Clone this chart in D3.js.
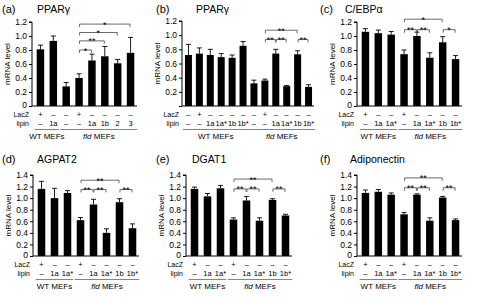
<!DOCTYPE html>
<html><head><meta charset="utf-8">
<script src="https://cdn.jsdelivr.net/npm/d3@7"></script>
<style>body{margin:0;background:#fff}svg{display:block;font-family:"Liberation Sans",Arial,sans-serif}</style>
</head><body><svg id="c" width="477" height="302"></svg>
<script>
// ---- data ----
const titles = ["PPARγ","PPARγ","C/EBPα","AGPAT2","DGAT1","Adiponectin"];
const tags = ["(a)","(b)","(c)","(d)","(e)","(f)"];

const lacZ8 = ["+","–","–","+","–","–","–","–"];
const lipin8 = ["–","1a","1a*","–","1a","1a*","1b","1b*"];
const lacZA = ["+","–","–","+","–","–","–","–"];
const lipinA = ["–","1a","–","–","1a","1b","2","3"];
const lacZB = ["–","+","–","–","–","–","–","+","–","–","–","–"];
const lipinB = ["–","–","1a","1a*","1b","1b*","–","–","1a","1a*","1b","1b*"];

const valsA = [0.81,0.93,0.28,0.40,0.65,0.71,0.61,0.76];
const errA  = [0.06,0.07,0.055,0.06,0.09,0.14,0.055,0.22];
const valsB = [0.72,0.74,0.72,0.69,0.68,0.85,0.32,0.36,0.74,0.28,0.73,0.27];
const errB  = [0.15,0.08,0.08,0.05,0.04,0.06,0.045,0.02,0.06,0.01,0.05,0.03];
const valsC = [1.06,1.04,1.02,0.74,1.00,0.69,0.91,0.67];
const errC  = [0.045,0.045,0.045,0.06,0.055,0.07,0.08,0.05];
const valsD = [1.16,1.00,1.09,0.62,0.89,0.40,0.93,0.48];
const errD  = [0.13,0.17,0.04,0.045,0.09,0.07,0.06,0.075];
const valsE = [1.16,1.03,1.17,0.63,0.96,0.61,0.97,0.70];
const errE  = [0.03,0.05,0.05,0.03,0.07,0.05,0.02,0.02];
const valsF = [1.09,1.11,1.06,0.72,1.06,0.61,1.01,0.62];
const errF  = [0.05,0.04,0.03,0.03,0.015,0.05,0.02,0.02];

const wtCount = [2,6,3,3,3,3];
const ticksTop = [0,0.2,0.4,0.6,0.8,1.0,1.2];
const ticksBot = [0,0.2,0.4,0.6,0.8,1.0,1.2,1.4];

// brackets: [from, to, height (data units), label]
const brA = [[3,7,1.17,"*"],[3,6,1.05,"*"],[3,5,0.93,"**"],[3,4,0.80,"*"]];
const brB = [[7,10,1.07,"**"],[7,8,0.94,"**"],[8,9,0.94,"**"],[10,11,0.94,"**"]];
const brC = [[3,6,1.24,"*"],[3,4,1.09,"**"],[4,5,1.09,"**"],[6,7,1.09,"*"]];
const brD = [[3,6,1.31,"**"],[3,4,1.15,"**"],[4,5,1.15,"**"],[6,7,1.15,"**"]];
const brE = [[3,6,1.33,"**"],[3,4,1.16,"**"],[4,5,1.16,"**"],[6,7,1.16,"**"]];
const brF = [[3,6,1.35,"**"],[3,4,1.18,"**"],[4,5,1.18,"**"],[6,7,1.18,"**"]];

// ---- layout ----
const svg = d3.select("#c");
const panels = [
  {vals:valsA,err:errA,lac:lacZA,lip:lipinA,br:brA,ticks:ticksTop,max:1.2,ax:32,x0:34,x1:137,y0:106,y1:22,row:0,col:0,zeroLabel:true},
  {vals:valsB,err:errB,lac:lacZB,lip:lipinB,br:brB,ticks:ticksTop,max:1.2,ax:182,x0:183,x1:314,y0:106,y1:21,row:0,col:1,zeroLabel:false},
  {vals:valsC,err:errC,lac:lacZ8,lip:lipin8,br:brC,ticks:ticksTop,max:1.2,ax:357,x0:359,x1:462,y0:106,y1:22,row:0,col:2,zeroLabel:true},
  {vals:valsD,err:errD,lac:lacZ8,lip:lipin8,br:brD,ticks:ticksBot,max:1.4,ax:33,x0:35,x1:139,y0:256,y1:175,row:1,col:0,zeroLabel:true},
  {vals:valsE,err:errE,lac:lacZ8,lip:lipin8,br:brE,ticks:ticksBot,max:1.4,ax:186,x0:188,x1:292,y0:256,y1:175,row:1,col:1,zeroLabel:true},
  {vals:valsF,err:errF,lac:lacZ8,lip:lipin8,br:brF,ticks:ticksBot,max:1.4,ax:357,x0:359,x1:462,y0:256,y1:175,row:1,col:2,zeroLabel:true}
];
const tagX = [2,156,320];
const titleX = [37,196,345,37,192,350];

panels.forEach((p,i)=>{
  const g = svg.append("g").attr("fill","#000");
  const n = p.vals.length;
  const x = d3.scaleBand().domain(d3.range(n)).range([p.x0,p.x1])
    .paddingInner(n>8?0.36:0.42).paddingOuter(n>8?0.18:0.21);
  const y = d3.scaleLinear().domain([0,p.max]).range([p.y0,p.y1]);
  const cx = k => x(k)+x.bandwidth()/2;
  const tY = p.row===0?13:163;

  g.append("text").attr("x",tagX[p.col]).attr("y",tY).attr("font-size",11).attr("fill","#000").text(tags[i]);
  g.append("text").attr("x",titleX[i]).attr("y",tY).attr("font-size",10.5).attr("fill","#000").text(titles[i]);

  const yAxis = d3.axisLeft(y).tickValues(p.ticks).tickSize(3).tickPadding(2)
    .tickFormat(v => v===0 ? (p.zeroLabel?"0":"") : d3.format(".1f")(v));
  const ag = g.append("g").attr("transform",`translate(${p.ax},0)`).call(yAxis);
  ag.select(".domain").attr("d",`M-3,${p.y1}H0V${p.y0}`).attr("stroke","#000").attr("stroke-width",1);
  ag.selectAll(".tick line").attr("stroke","#000");
  ag.selectAll("text").attr("font-size",8.5).attr("font-family","Liberation Sans, Arial, sans-serif").attr("fill","#000");
  ag.selectAll(".tick").filter(d=>d===0).select("text").attr("dy","0.2em");

  g.append("text").attr("transform",`translate(${p.ax-22},${(p.y0+p.y1)/2}) rotate(-90)`)
    .attr("text-anchor","middle").attr("font-size",8).attr("fill","#000").text("mRNA level");

  g.append("line").attr("x1",p.ax).attr("x2",p.x1).attr("y1",p.y0).attr("y2",p.y0).attr("stroke","#000");

  g.selectAll("rect.bar").data(p.vals).join("rect")
    .attr("x",(d,k)=>x(k)).attr("width",x.bandwidth())
    .attr("y",d=>y(d)).attr("height",d=>p.y0-y(d)).attr("fill","#000");
  p.vals.forEach((v,k)=>{
    const top = y(v+p.err[k]);
    g.append("line").attr("x1",cx(k)).attr("x2",cx(k)).attr("y1",y(v)).attr("y2",top).attr("stroke","#000").attr("stroke-width",0.9);
    g.append("line").attr("x1",cx(k)-2.5).attr("x2",cx(k)+2.5).attr("y1",top).attr("y2",top).attr("stroke","#000").attr("stroke-width",0.9);
  });

  p.br.forEach(b=>{
    const yy = y(b[2]);
    const xa = cx(b[0])+0.5, xb = cx(b[1])-0.5;
    g.append("path").attr("d",`M${xa},${yy+3}V${yy}H${xb}V${yy+3}`)
      .attr("fill","none").attr("stroke","#444").attr("stroke-width",0.8);
    g.append("text").attr("x",(xa+xb)/2).attr("y",yy+3.5).attr("text-anchor","middle")
      .attr("font-size",9).attr("fill","#000").text(b[3]);
  });

  const rowL = p.y0+11, rowP = p.y0+20;
  g.append("text").attr("x",p.ax-3).attr("y",rowL).attr("text-anchor","end").attr("font-size",7).attr("fill","#000").text("LacZ");
  g.append("text").attr("x",p.ax-3).attr("y",rowP).attr("text-anchor","end").attr("font-size",7).attr("fill","#000").text("lipin");
  p.lac.forEach((s,k)=>g.append("text").attr("x",cx(k)).attr("y",rowL).attr("text-anchor","middle").attr("font-size",7.5).attr("fill","#000").text(s));
  p.lip.forEach((s,k)=>g.append("text").attr("x",cx(k)).attr("y",rowP).attr("text-anchor","middle").attr("font-size",7.5).attr("fill","#000").text(s));

  const w = wtCount[i];
  const ul = rowP+3.5;
  const gA = [x(0)-2, x(w-1)+x.bandwidth()+2];
  const gB = [x(w)-2, x(n-1)+x.bandwidth()+3];
  [gA,gB].forEach(r=>g.append("line").attr("x1",r[0]).attr("x2",r[1]).attr("y1",ul).attr("y2",ul).attr("stroke","#666").attr("stroke-width",0.8));
  g.append("text").attr("x",(gA[0]+gA[1])/2).attr("y",ul+9.5).attr("text-anchor","middle").attr("font-size",8).attr("fill","#000").text("WT MEFs");
  const t = g.append("text").attr("x",(gB[0]+gB[1])/2).attr("y",ul+9.5).attr("text-anchor","middle").attr("font-size",8).attr("fill","#000");
  t.append("tspan").attr("font-style","italic").text("fld");
  t.append("tspan").text(" MEFs");
});
</script></body></html>
